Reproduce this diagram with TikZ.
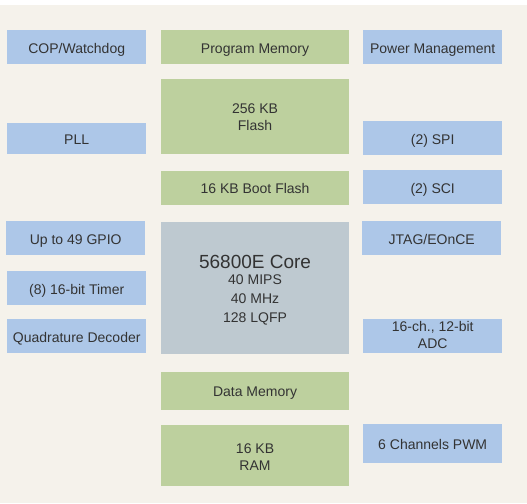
\documentclass[tikz,border=0pt]{standalone}
\usepackage{fontspec}
\setmainfont{Liberation Sans}
\usetikzlibrary{positioning}
\definecolor{bgcol}{HTML}{F5F2EB}
\definecolor{periph}{HTML}{ADC7E8}
\definecolor{memcol}{HTML}{BDD09E}
\definecolor{corecol}{HTML}{BEC9D0}
\definecolor{txt}{HTML}{333333}
\newcommand\tstrut{\rule[-3.2pt]{0pt}{18.4pt}}
\newcommand\cstrut{\rule{0pt}{18.6pt}}

\begin{document}
\begin{tikzpicture}[x=1pt,y=-1pt,node distance=16pt,
  box/.style={rectangle,inner sep=0pt,anchor=north west,text=txt,align=center,font=\fontsize{14}{17}\selectfont,
    execute at begin node={\tstrut}},
  per node/.style={box,fill=periph,minimum width=139pt},
  mem node/.style={box,fill=memcol,minimum width=188.3pt},
  core node/.style={box,fill=corecol,minimum width=188.3pt,font=\fontsize{14}{19}\selectfont,
    execute at begin node={}}]

    \useasboundingbox (0,0) rectangle (527,503);
    \fill[bgcol] (0,4.7) rectangle (527,503);

    % left column
    \node[per node,minimum height=33.7pt] (cop) at (7,30) {COP/Watchdog};
    \node[per node,minimum height=30.7pt] (pll) at (7,123) {PLL};
    \node[per node,minimum height=33.7pt] (gpio) at (6,221) {Up to 49 GPIO};
    \node[per node,minimum height=34pt] (timer) at (7,271) {(8) 16-bit Timer};
    \node[per node,minimum height=33.7pt] (quad) at (7,319) {Quadrature Decoder};

    % memory and core
    \node[mem node,minimum height=33.7pt] (pm) at (160.7,30) {Program Memory};
    \node[mem node,minimum height=75pt,below=14.6pt of pm] (flash) {\tstrut 256 KB\\Flash};
    \node[mem node,minimum height=33.7pt,below=16.7pt of flash] (boot) {16 KB Boot Flash};
    \node[core node,minimum height=131.7pt,below=17.3pt of boot] (core) {\cstrut{\fontsize{19}{22}\selectfont 56800E Core}\\[-3pt]40 MIPS\\40 MHz\\128 LQFP};
    \node[mem node,minimum height=37.7pt,below=17.3pt of core] (dmem) {Data Memory};
    \node[mem node,minimum height=60.7pt,below=15.3pt of dmem] (ram) {\tstrut 16 KB\\RAM};

    % right column
    \node[per node,minimum height=33.7pt] (pwr) at (363,30) {Power Management};
    \node[per node,minimum height=33.7pt] (spi) at (363,121) {(2) SPI};
    \node[per node,minimum height=33.7pt] (sci) at (363,170) {(2) SCI};
    \node[per node,minimum height=33.7pt] (jtag) at (362,221) {JTAG/EOnCE};
    \node[per node,minimum height=33.7pt] (adc) at (363,319) {16-ch., 12-bit\\ADC};
    \node[per node,minimum height=38.7pt] (pwm) at (363,424) {6 Channels PWM};
\end{tikzpicture}
\end{document}
